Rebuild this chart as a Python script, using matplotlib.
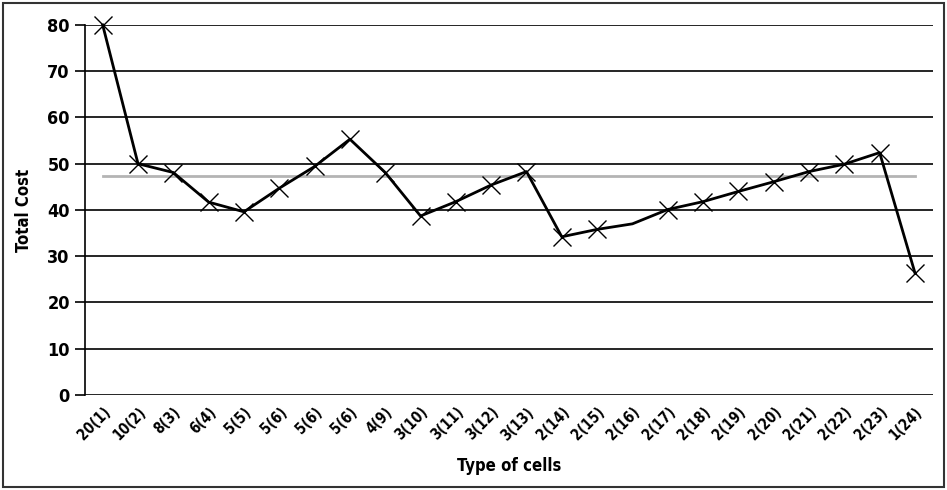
import numpy as np
import matplotlib.pyplot as plt
from matplotlib.patches import Rectangle

labels = ['20(1)', '10(2)', '8(3)', '6(4)', '5(5)', '5(6)', '5(6)', '5(6)', '4(9)', '3(10)',
          '3(11)', '3(12)', '3(13)', '2(14)', '2(15)', '2(16)', '2(17)', '2(18)', '2(19)',
          '2(20)', '2(21)', '2(22)', '2(23)', '1(24)']
cost = [80, 50, 48.1, 41.7, 39.6, 44.7, 49.4, 55.3, 48.1, 38.7,
        41.8, 45.4, 48.3, 34.2, 35.8, 37.0, 40.1, 41.8, 44.0,
        46.1, 48.3, 49.9, 52.4, 26.4]
average = 47.4
no_marker = [15]

plt.rcParams['font.family'] = ['DejaVu Sans']
plt.rcParams['font.stretch'] = 'condensed'

fig = plt.figure(figsize=(9.47, 4.90), dpi=100)
ax = fig.add_axes([0.0898, 0.194, 0.895, 0.755])

x = np.arange(len(cost))
marks = [i for i in x if i not in no_marker]
ax.plot(x, [average] * len(x), color='#b4b4b4', lw=2, zorder=2)
ax.plot(x, cost, color='black', lw=2, marker='x', markersize=13, markeredgewidth=1,
        markevery=marks, zorder=3, clip_on=False)

ax.set_xlim(-0.5, len(cost) - 0.5)
ax.set_ylim(0, 80)
ax.set_yticks(range(0, 81, 10))
ax.yaxis.grid(True, color='black', lw=1.2)
ax.set_axisbelow(True)
for s in ['top', 'right', 'bottom']:
    ax.spines[s].set_visible(False)
ax.spines['left'].set_linewidth(1.2)
ax.tick_params(axis='y', length=7, width=1.2, labelsize=13, pad=4)
for t in ax.get_yticklabels():
    t.set_fontweight('bold')
ax.set_xticks(x)
ax.set_xticklabels(labels, rotation=45, ha='right', rotation_mode='anchor', fontsize=10.5,
                   fontweight='bold')
ax.tick_params(axis='x', length=0, pad=7)
ax.set_ylabel('Total Cost', fontsize=12, fontweight='bold', labelpad=10)
ax.set_xlabel('Type of cells', fontsize=12, fontweight='bold', labelpad=10)

fig.patches.append(Rectangle((0.003, 0.006), 0.994, 0.988, transform=fig.transFigure,
                             fill=False, edgecolor='#333333', lw=1.5))

plt.savefig('out.png', dpi=100)
